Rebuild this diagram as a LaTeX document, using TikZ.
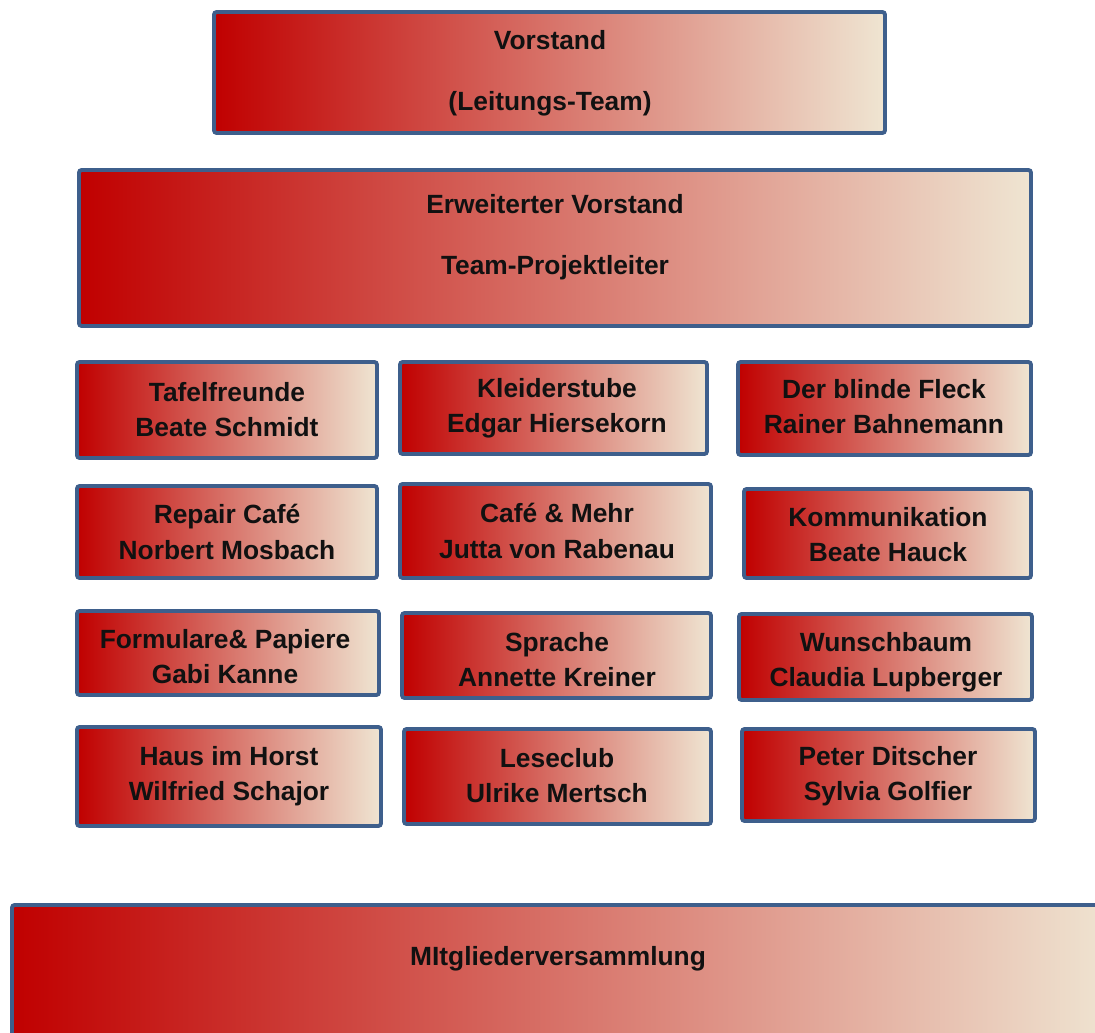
\documentclass[tikz,border=0pt]{standalone}
\usepackage{fontspec}
\setmainfont{Liberation Sans}
\definecolor{boxBlue}{HTML}{3E5F8C}
\definecolor{boxRed}{HTML}{C00000}
\definecolor{boxCream}{HTML}{EFE5D2}
\definecolor{textDark}{HTML}{111111}

\begin{document}
\begin{tikzpicture}[x=0.02cm,y=-0.02cm]
  \tikzset{
    orgbox/.style={draw=boxBlue,line width=2.2pt,left color=boxRed,right color=boxCream,rounded corners=1.5pt},
    boxtext/.style={font=\bfseries\fontsize{15}{20}\selectfont,align=center,text=textDark,inner sep=0pt}
  }
  \clip (0,0) rectangle (1095,1033);

  % Leitung
  \filldraw[orgbox] (214,12) rectangle (885,133);
  \node[boxtext] (vorstand) at (550,73) {Vorstand\\[15pt](Leitungs-Team)};

  \filldraw[orgbox] (79,170) rectangle (1031,326);
  \node[boxtext] (erweitert) at (555,237) {Erweiterter Vorstand\\[15pt]Team-Projektleiter};

  % Projekte
  \filldraw[orgbox] (77,362) rectangle (377,458);
  \node[boxtext] (tafel) at (227,410) {Tafelfreunde\\Beate Schmidt};
  \filldraw[orgbox] (400,362) rectangle (707,454);
  \node[boxtext] (kleider) at (557,408) {Kleiderstube\\Edgar Hiersekorn};
  \filldraw[orgbox] (738,362) rectangle (1031,455);
  \node[boxtext] (fleck) at (884,407) {Der blinde Fleck\\Rainer Bahnemann};

  \filldraw[orgbox] (77,486) rectangle (377,578);
  \node[boxtext] (repair) at (227,532) {Repair Café\\Norbert Mosbach};
  \filldraw[orgbox] (400,484) rectangle (711,578);
  \node[boxtext] (cafe) at (557,531) {Café \& Mehr\\Jutta von Rabenau};
  \filldraw[orgbox] (744,489) rectangle (1031,578);
  \node[boxtext] (komm) at (888,535) {Kommunikation\\Beate Hauck};

  \filldraw[orgbox] (77,611) rectangle (379,695);
  \node[boxtext] (formulare) at (225,657) {Formulare\& Papiere\\Gabi Kanne};
  \filldraw[orgbox] (402,613) rectangle (711,698);
  \node[boxtext] (sprache) at (557,660) {Sprache\\Annette Kreiner};
  \filldraw[orgbox] (739,614) rectangle (1032,700);
  \node[boxtext] (wunsch) at (886,662) {Wunschbaum\\Claudia Lupberger};

  \filldraw[orgbox] (77,727) rectangle (381,826);
  \node[boxtext] (haus) at (229,776) {Haus im Horst\\Wilfried Schajor};
  \filldraw[orgbox] (404,729) rectangle (711,824);
  \node[boxtext] (lese) at (557,776) {Leseclub\\Ulrike Mertsch};
  \filldraw[orgbox] (742,729) rectangle (1035,821);
  \node[boxtext] (peter) at (888,776) {Peter Ditscher\\Sylvia Golfier};

  % Versammlung
  \filldraw[orgbox] (12,905) rectangle (1115,1060);
  \node[boxtext] (mitglieder) at (558,959) {MItgliederversammlung};
\end{tikzpicture}
\end{document}
